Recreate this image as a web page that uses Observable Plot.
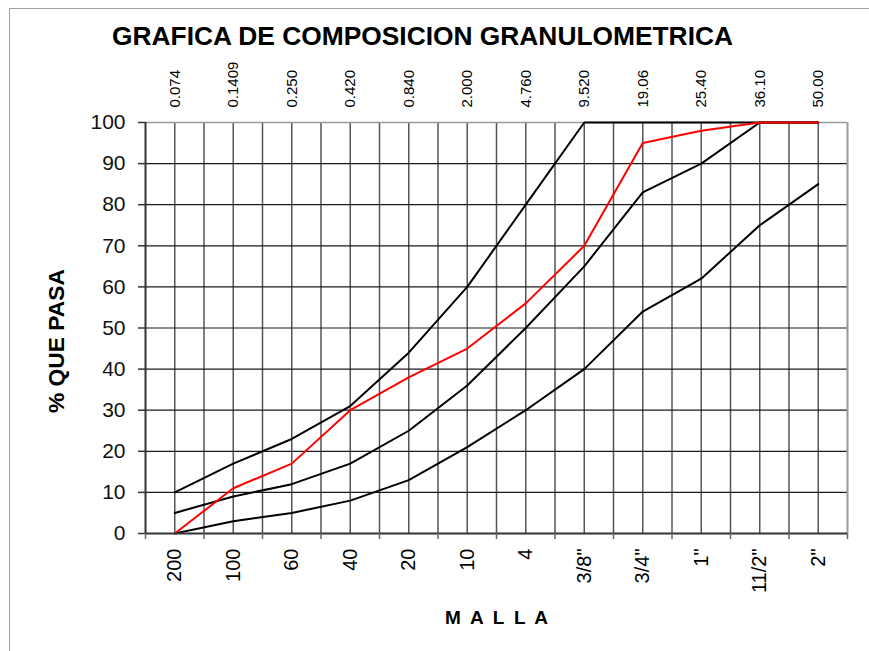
<!DOCTYPE html>
<html><head><meta charset="utf-8">
<script src="https://cdn.jsdelivr.net/npm/d3@7"></script>
<script src="https://cdn.jsdelivr.net/npm/@observablehq/plot@0.6"></script>
<style>
body{margin:0;background:#fff;}
#wrap{position:relative;width:869px;height:651px;overflow:hidden;}
#border{position:absolute;left:9px;top:8px;width:900px;height:700px;border-left:1.5px solid #a0a0a0;border-top:1.5px solid #a0a0a0;pointer-events:none;}
</style>
</head><body><div id="wrap"><div id="border"></div></div>
<script>
const mallas = ["200","100","60","40","20","10","4","3/8\"","3/4\"","1\"","11/2\"","2\""];
const aberturas = ["0.074","0.1409","0.250","0.420","0.840","2.000","4.760","9.520","19.06","25.40","36.10","50.00"];
const limiteSuperior = [10,17,23,31,44,60,80,100,100,100,100,100];
const limiteMedio    = [5,9,12,17,25,36,50,65,83,90,100,100];
const limiteInferior = [0,3,5,8,13,21,30,40,54,62,75,85];
const muestra        = [0,11,17,30,38,45,56,70,95,98,100,100];
const yTicks = [0,10,20,30,40,50,60,70,80,90,100];

const idx = mallas.map((_, i) => i);
const serie = vals => vals.map((v, i) => ({i, v}));
const gridX = d3.range(-0.5, 11.51, 0.5);
const bordes = d3.range(-0.5, 11.51, 1);

const font = "'Liberation Sans', Arial, sans-serif";

const chart = Plot.plot({
  width: 869,
  height: 651,
  marginLeft: 145,
  marginRight: 22,
  marginTop: 122,
  marginBottom: 118,
  style: {fontFamily: font, background: "#fff", color: "#111"},
  x: {domain: [-0.5, 11.5]},
  y: {domain: [0, 100]},
  marks: [
    Plot.ruleX(gridX.filter(d => d > -0.5 && d < 11.5), {stroke: "#555", strokeWidth: 1.5}),
    Plot.ruleY(yTicks.filter(d => d > 0 && d < 100), {stroke: "#1a1a1a", strokeWidth: 1.2}),
    Plot.ruleY([100], {stroke: "#9a9a9a", strokeWidth: 1.5}),
    Plot.ruleX([11.5], {stroke: "#9a9a9a", strokeWidth: 2}),
    Plot.line(serie(limiteInferior), {x: "i", y: "v", stroke: "#000", strokeWidth: 2}),
    Plot.line(serie(limiteMedio), {x: "i", y: "v", stroke: "#000", strokeWidth: 2}),
    Plot.line(serie(limiteSuperior), {x: "i", y: "v", stroke: "#000", strokeWidth: 2}),
    Plot.line(serie(muestra), {x: "i", y: "v", stroke: "#ff0000", strokeWidth: 2}),
    Plot.ruleX([-0.5], {stroke: "#333", strokeWidth: 2}),
    Plot.ruleY([0], {stroke: "#333", strokeWidth: 2}),
    Plot.axisY({ticks: yTicks, tickSize: 7, tickPadding: 13, fontSize: 21, stroke: "#333", strokeWidth: 1.5, label: null}),
    Plot.axisX({anchor: "bottom", ticks: bordes, tickFormat: () => "", tickSize: 6, stroke: "#666", strokeWidth: 1.5, label: null}),
    Plot.text(idx, {x: d => d, text: i => mallas[i], frameAnchor: "bottom", dy: 15, rotate: -90, textAnchor: "end", lineAnchor: "middle", fontSize: 20, fill: "#000"}),
    Plot.text(idx, {x: d => d, text: i => aberturas[i], frameAnchor: "top", dy: -15, rotate: -90, textAnchor: "start", lineAnchor: "middle", fontSize: 15, fill: "#000"}),
    Plot.text(["GRAFICA DE COMPOSICION GRANULOMETRICA"], {text: d => d, frameAnchor: "top", dx: -74, dy: -86, lineAnchor: "middle", textAnchor: "middle", fontSize: 25, fontWeight: "bold", fill: "#000"}),
    Plot.text(["% QUE PASA"], {text: d => d, frameAnchor: "left", dx: -89, dy: 13, rotate: -90, lineAnchor: "middle", textAnchor: "middle", fontSize: 22, fontWeight: "bold", fill: "#000"}),
    Plot.text(["M A L L A"], {text: d => d, frameAnchor: "bottom", dy: 84, lineAnchor: "middle", textAnchor: "middle", fontSize: 19, fontWeight: "bold", fill: "#000"})
  ]
});

document.getElementById("wrap").prepend(chart);
const s = d3.select(chart);
s.selectAll("text").filter(function(){return this.textContent === "GRAFICA DE COMPOSICION GRANULOMETRICA";})
  .attr("textLength", 621).attr("lengthAdjust", "spacingAndGlyphs");
s.selectAll("text").filter(function(){return this.textContent === "M A L L A";})
  .attr("textLength", 103).attr("lengthAdjust", "spacing");
s.selectAll("text").filter(function(){return this.textContent === "% QUE PASA";})
  .attr("textLength", 144).attr("lengthAdjust", "spacingAndGlyphs");
</script>
</body></html>
